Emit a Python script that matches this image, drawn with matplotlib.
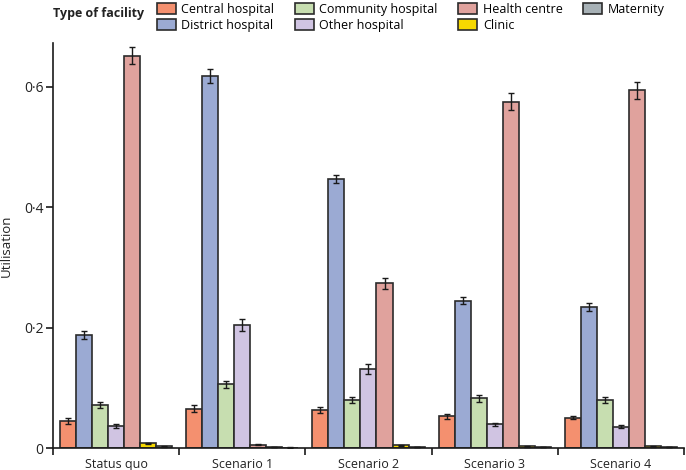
import numpy as np
import matplotlib
matplotlib.use('Agg')
from matplotlib import pyplot as plt
from matplotlib.ticker import FixedLocator

plt.rcParams['font.family'] = ['Open Sans', 'DejaVu Sans']

## data
scenarios = ['Status quo', 'Scenario 1', 'Scenario 2', 'Scenario 3', 'Scenario 4']
facilities = ['Central hospital', 'District hospital', 'Community hospital',
              'Other hospital', 'Health centre', 'Clinic', 'Maternity']

central = [0.045, 0.066, 0.063, 0.053, 0.051]
district = [0.188, 0.618, 0.447, 0.245, 0.235]
community = [0.072, 0.106, 0.080, 0.083, 0.080]
other = [0.037, 0.204, 0.131, 0.040, 0.036]
health = [0.651, 0.006, 0.274, 0.575, 0.594]
clinic = [0.008, 0.002, 0.005, 0.003, 0.003]
maternity = [0.003, 0.001, 0.002, 0.002, 0.002]

central_err = [0.0045, 0.005, 0.005, 0.004, 0.003]
district_err = [0.0065, 0.012, 0.007, 0.0064, 0.0064]
community_err = [0.0055, 0.0055, 0.0047, 0.0055, 0.0055]
other_err = [0.003, 0.010, 0.0083, 0.0025, 0.002]
health_err = [0.014, 0.001, 0.009, 0.014, 0.014]
clinic_err = [0.0015, 0.0005, 0.001, 0.0005, 0.0005]
maternity_err = [0.0005, 0.0005, 0.0005, 0.0005, 0.0005]

values = [central, district, community, other, health, clinic, maternity]
errors = [central_err, district_err, community_err, other_err, health_err,
          clinic_err, maternity_err]
colours = ['#F4906F', '#9BAAD3', '#C7DEB0', '#D0C4E2', '#E0A29D', '#F6D800', '#A7B1B6']

## drawing the plot
fig = plt.figure(figsize=(6.86, 4.70), dpi=100)
ax = fig.add_axes([0.0773, 0.0462, 0.9197, 0.863])

x = np.arange(len(scenarios))
w = 0.127
for i in range(len(facilities)):
    ax.bar(x + (i - 3) * w, values[i], w, color=colours[i], edgecolor='#2b2b2b',
           linewidth=1.2, label=facilities[i], zorder=2)
    ax.errorbar(x + (i - 3) * w, values[i], yerr=errors[i], fmt='none',
                ecolor='#1a1a1a', elinewidth=1.0, capsize=2, capthick=1.0, zorder=3)

ax.set_xlim(-0.5, 4.5)
ax.set_ylim(0, 0.673)

## axes styling
for s in ['top', 'right']:
    ax.spines[s].set_visible(False)
for s in ['left', 'bottom']:
    ax.spines[s].set_linewidth(1.2)
    ax.spines[s].set_color('#1a1a1a')

ax.set_yticks([0, 0.2, 0.4, 0.6])
ax.set_yticklabels(['0', '0·2', '0·4', '0·6'])
ax.set_xticks(x)
ax.set_xticklabels(scenarios)
ax.xaxis.set_minor_locator(FixedLocator(np.arange(-0.5, 5.0, 1.0)))
ax.tick_params(axis='x', which='major', length=0, pad=7, labelsize=9, colors='#222222')
ax.tick_params(axis='x', which='minor', length=5, width=1.2, direction='out', color='#1a1a1a')
ax.tick_params(axis='y', length=5, width=1.2, direction='out', labelsize=10, colors='#222222',
               color='#1a1a1a', pad=2)
ax.set_ylabel('Utilisation', fontsize=9.5, color='#222222', labelpad=8)

## legend across the top with the title to the left
fig.text(0.077, 0.985, 'Type of facility', fontsize=9, fontweight='bold',
         ha='left', va='top', color='#222222')
fig.legend(loc='upper left', bbox_to_anchor=(0.218, 1.01), ncol=4, frameon=False,
           fontsize=9, handlelength=1.5, handleheight=0.9, handletextpad=0.45,
           columnspacing=1.65, labelspacing=0.25, borderaxespad=0.2)

fig.savefig('out.png', dpi=100)
